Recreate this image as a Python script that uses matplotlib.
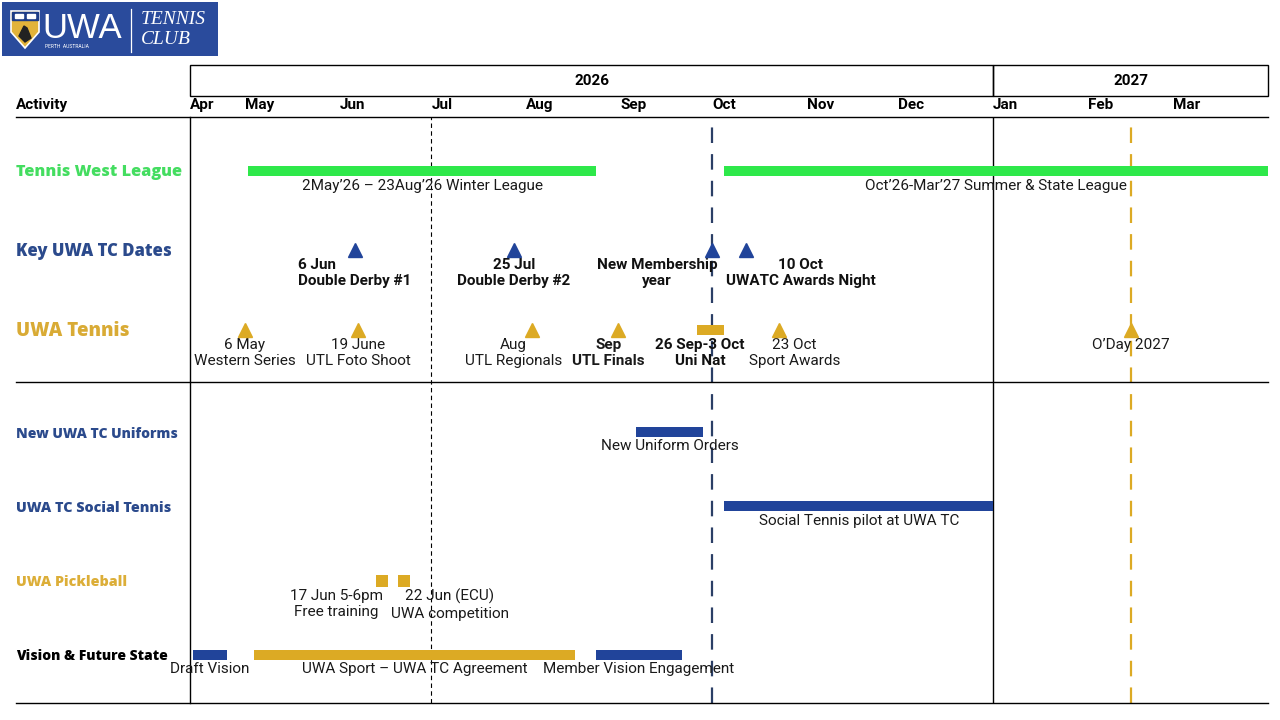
import matplotlib
matplotlib.use("Agg")
import matplotlib.pyplot as plt
import matplotlib.dates as mdates
from matplotlib.patches import Rectangle, Polygon
from matplotlib.lines import Line2D
from matplotlib.transforms import blended_transform_factory

plt.rcParams['font.family'] = ['Roboto', 'DejaVu Sans']

# ------------------ DATOS ------------------

x_start, x_end = "2026-04-13", "2027-04-01"

month_starts = ["2026-04-01", "2026-05-01", "2026-06-01", "2026-07-01", "2026-08-01",
                "2026-09-01", "2026-10-01", "2026-11-01", "2026-12-01", "2027-01-01",
                "2027-02-01", "2027-03-01"]
month_labels = ["Apr", "May", "Jun", "Jul", "Aug", "Sep", "Oct", "Nov", "Dec", "Jan", "Feb", "Mar"]

year_labels = ["2026", "2027"]
year_bounds = [x_start, "2027-01-01", x_end]

row_names = ["Tennis West League", "Key UWA TC Dates", "UWA Tennis",
             "New UWA TC Uniforms", "UWA TC Social Tennis", "UWA Pickleball",
             "Vision & Future State"]

# Tennis West League
league_start = ["2026-05-02", "2026-10-05"]
league_end = ["2026-08-24", x_end]
league_labels = ["2May’26 – 23Aug’26 Winter League", "Oct’26-Mar’27 Summer & State League"]

# Key UWA TC dates (triangulos)
key_dates = ["2026-06-06", "2026-07-28", "2026-10-01", "2026-10-12"]
key_text_at = ["2026-06-06", "2026-07-28", "2026-09-13", "2026-10-30"]
key_labels = ["6 Jun\nDouble Derby #1", "25 Jul\nDouble Derby #2",
              "New Membership\nyear", "10 Oct\nUWATC Awards Night"]
key_align = ["left", "center", "center", "center"]

# UWA Tennis (triangulos)
tennis_dates = ["2026-05-01", "2026-06-07", "2026-08-03", "2026-08-31", "2026-10-23", "2027-02-15"]
tennis_text_at = ["2026-05-01", "2026-06-07", "2026-07-28", "2026-08-28", "2026-10-28", "2027-02-15"]
tennis_labels = ["6 May\nWestern Series", "19 June\nUTL Foto Shoot", "Aug\nUTL Regionals",
                 "Sep\nUTL Finals", "23 Oct\nSport Awards", "O’Day 2027"]
tennis_bold = [False, False, False, True, False, False]

# UWA Tennis (bloque Uni Nat)
uninat_start, uninat_end = "2026-09-26", "2026-10-05"
uninat_text_at = "2026-09-27"
uninat_label = "26 Sep-3 Oct\nUni Nat"

# Uniformes / social tennis
uniform_start, uniform_end = "2026-09-06", "2026-09-28"
uniform_label = "New Uniform Orders"
social_start, social_end = "2026-10-05", "2027-01-01"
social_label = "Social Tennis pilot at UWA TC"

# Pickleball
pickle_start = ["2026-06-13", "2026-06-20"]
pickle_end = ["2026-06-17", "2026-06-24"]
pickle_text_at = ["2026-05-31", "2026-07-07"]
pickle_labels = ["17 Jun 5-6pm\nFree training", "22 Jun (ECU)\nUWA competition"]

# Vision & Future State
vision_start = ["2026-04-14", "2026-05-04", "2026-08-24"]
vision_end = ["2026-04-25", "2026-08-17", "2026-09-21"]
vision_labels = ["Draft Vision", "UWA Sport – UWA TC Agreement", "Member Vision Engagement"]
vision_kind = ["navy", "gold", "navy"]

milestone_dates = ["2026-07-01", "2026-10-01", "2027-02-15"]

# ------------------ ESTILO ------------------

W, H = 1280, 720
NAVY = '#21449a'
GOLD = '#dcaa24'
GREEN = '#2ee84a'
LOGO = '#2a4b9c'
row_y = [171, 250, 330, 432, 506, 580, 655]
row_colors = ['#44dd60', '#2b4a8c', '#d9ab35', '#2b4a8c', '#2b4a8c', '#dcae38', 'black']
row_sizes = [11.7, 12.0, 13.4, 10.0, 10.3, 10.3, 10.0]
BODY = 11
BAR_H = 10

num = mdates.datestr2num


def span(a, b):
    return num(a), num(b) - num(a)


fig = plt.figure(figsize=(W / 100, H / 100), dpi=100)

# ------------------ LOGO ------------------
axl = fig.add_axes([2 / W, 1 - 56 / H, 216 / W, 54 / H])
axl.set_xlim(0, 216)
axl.set_ylim(54, 0)
axl.axis('off')
axl.add_patch(Rectangle((0, 0), 216, 54, color=LOGO))
shield = Polygon([(9, 9), (37, 9), (37, 30), (23, 46), (9, 30)], closed=True,
                 facecolor='#e2b33a', edgecolor='white', lw=1.2)
axl.add_patch(shield)
axl.add_patch(Rectangle((10, 10), 26, 8, color='#1d3c86'))
axl.add_patch(Rectangle((13, 12), 8, 4, color='white'))
axl.add_patch(Rectangle((25, 12), 8, 4, color='white'))
axl.add_patch(Polygon([(17, 34), (22, 24), (25, 26), (29, 36), (23, 40)], closed=True, color='#222222'))
axl.text(40, 26, "UWA", color='white', fontsize=25, family=['Liberation Sans Narrow', 'Liberation Sans'],
         va='center', ha='left')
axl.text(43, 44, "PERTH  AUSTRALIA", color='white', fontsize=3.6, va='center', ha='left')
axl.plot([129, 129], [7, 50], color='white', lw=0.9)
axl.text(139, 18, "TENNIS", color='white', fontsize=14, family=['Liberation Serif'],
         style='italic', va='center', ha='left')
axl.text(139, 37, "CLUB", color='white', fontsize=14, family=['Liberation Serif'],
         style='italic', va='center', ha='left')

# ------------------ CABECERA ------------------
axh = fig.add_axes([190 / W, 1 - 117 / H, 1078 / W, 53 / H])
axh.set_xlim(num(x_start), num(x_end))
axh.set_ylim(117, 64)
axh.axis('off')
for i, yl in enumerate(year_labels):
    left, width = span(year_bounds[i], year_bounds[i + 1])
    axh.add_patch(Rectangle((left, 65), width, 31, fill=False, lw=1, ec='black', clip_on=False))
    axh.text(left + width / 2, 81, yl, ha='center', va='center', fontsize=BODY, fontweight='bold')
for ms, ml in zip(month_starts, month_labels):
    xm = max(num(ms), num(x_start))
    axh.text(xm, 105, ml, ha='left', va='center', fontsize=BODY, fontweight='bold')
trans_h = blended_transform_factory(fig.transFigure, axh.transData)
axh.text(16 / W, 105, "Activity", transform=trans_h, ha='left', va='center',
         fontsize=BODY, fontweight='bold')

# ------------------ CUERPO ------------------
ax = fig.add_axes([190 / W, 1 - 703 / H, 1078 / W, 586 / H])
ax.set_xlim(num(x_start), num(x_end))
ax.set_ylim(703, 117)
ax.axis('off')

for yy in (117, 382, 703):
    fig.add_artist(Line2D([16 / W, 1268 / W], [1 - yy / H] * 2, transform=fig.transFigure,
                          color='black', lw=1))

ax.axvline(num(x_start), color='black', lw=1, clip_on=False)
ax.axvline(num("2027-01-01"), color='black', lw=1)
ax.axvline(num(milestone_dates[0]), color='black', lw=0.8, ls=(0, (4, 3)))
ax.axvline(num(milestone_dates[1]), color='#2b3f66', lw=1.6, ls=(0, (7, 5)))
ax.axvline(num(milestone_dates[2]), color=GOLD, lw=1.6, ls=(0, (7, 5)))

trans_l = blended_transform_factory(fig.transFigure, ax.transData)
for name, yy, c, s in zip(row_names, row_y, row_colors, row_sizes):
    ax.text(16 / W, yy + 1.5, name, transform=trans_l, ha='left', va='center', color=c,
            fontsize=s, fontweight='heavy', family=['Open Sans', 'DejaVu Sans'])

tk = dict(fontsize=BODY, color='#1a1a1a')

# Tennis West League
y0 = row_y[0]
for a, b, lab in zip(league_start, league_end, league_labels):
    left, width = span(a, b)
    ax.barh(y0, width, left=left, height=BAR_H, color=GREEN, zorder=3)
    ax.text(left + width / 2, y0 + 15, lab, ha='center', va='center', **tk)

# Key dates
y1 = row_y[1]
ax.plot([num(d) for d in key_dates], [y1] * len(key_dates), ls='none', marker='^',
        ms=10, color=NAVY, zorder=4)
for xt, lab, al in zip(key_text_at, key_labels, key_align):
    ax.text(num(xt), y1 + 8, lab, ha='center', va='top', multialignment=al,
            fontweight='bold', fontsize=BODY, color='#111111')

# UWA Tennis
y2 = row_y[2]
ax.plot([num(d) for d in tennis_dates], [y2] * len(tennis_dates), ls='none', marker='^',
        ms=10, color=GOLD, zorder=4)
left, width = span(uninat_start, uninat_end)
ax.barh(y2, width, left=left, height=BAR_H, color=GOLD, zorder=4)
ax.text(num(uninat_text_at), y2 + 8, uninat_label, ha='center', va='top',
        fontweight='bold', fontsize=BODY, color='#111111')
for xt, lab, bold in zip(tennis_text_at, tennis_labels, tennis_bold):
    ax.text(num(xt), y2 + 8, lab, ha='center', va='top',
            fontweight='bold' if bold else 'normal', **tk)

# Uniformes
y3 = row_y[3]
left, width = span(uniform_start, uniform_end)
ax.barh(y3, width, left=left, height=BAR_H, color=NAVY, zorder=3)
ax.text(left + width / 2, y3 + 14, uniform_label, ha='center', va='center', **tk)

# Social tennis
y4 = row_y[4]
left, width = span(social_start, social_end)
ax.barh(y4, width, left=left, height=BAR_H, color=NAVY, zorder=3)
ax.text(left + width / 2, y4 + 15, social_label, ha='center', va='center', **tk)

# Pickleball
y5 = row_y[5] + 1
for a, b in zip(pickle_start, pickle_end):
    left, width = span(a, b)
    ax.barh(y5, width, left=left, height=12, color=GOLD, zorder=3)
for xt, lab in zip(pickle_text_at, pickle_labels):
    ax.text(num(xt), y5 + 8, lab, ha='center', va='top', **tk)

# Vision & Future State
y6 = row_y[6]
for a, b, lab, kind in zip(vision_start, vision_end, vision_labels, vision_kind):
    left, width = span(a, b)
    ax.barh(y6, width, left=left, height=BAR_H, color=NAVY if kind == 'navy' else GOLD, zorder=3)
    ax.text(left + width / 2, y6 + 14, lab, ha='center', va='center', zorder=5, **tk)

fig.savefig("out.png", dpi=100)
